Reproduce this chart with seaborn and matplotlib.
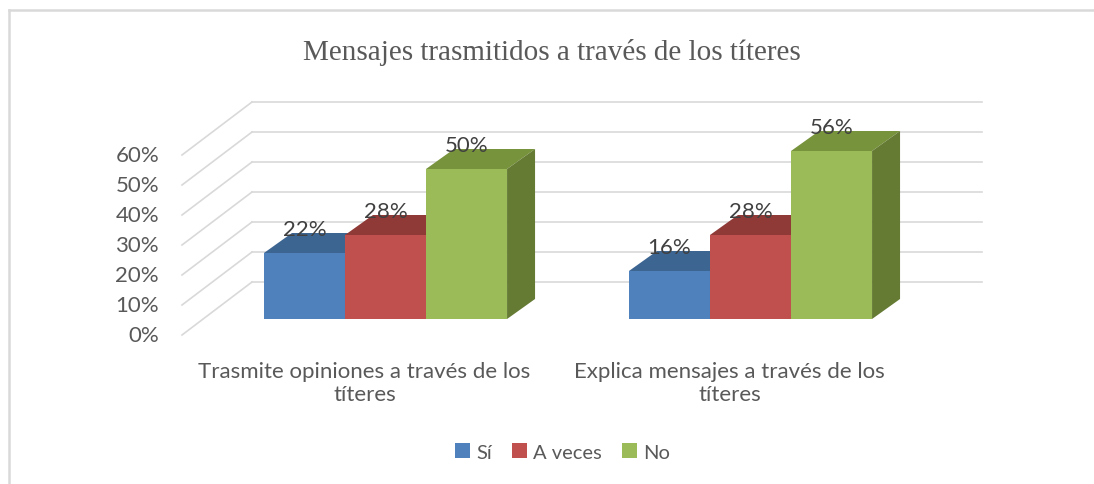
import numpy as np
import pandas as pd
import seaborn as sns
import matplotlib.pyplot as plt
from matplotlib.patches import Polygon
from matplotlib.lines import Line2D

# data
preguntas = ["Trasmite opiniones a través de los\ntíteres",
             "Explica mensajes a través de los\ntíteres"]
respuestas = ["Sí", "A veces", "No"]
si = [22, 16]
a_veces = [28, 28]
no = [50, 56]
ticks = [0, 10, 20, 30, 40, 50, 60]

df = pd.DataFrame({
    "pregunta": preguntas * 3,
    "respuesta": [r for r in respuestas for _ in preguntas],
    "valor": si + a_veces + no,
})

front = {"Sí": "#4F81BD", "A veces": "#C0504D", "No": "#9BBB59"}
top = {"Sí": "#3D6592", "A veces": "#8F3A37", "No": "#77933C"}
side = {"Sí": "#36587F", "A veces": "#7E3331", "No": "#657B34"}
grid_c = "#D9D9D9"
txt_c = "#595959"
lbl_font = "Lato"
fs = 16

W, H = 1094, 485
fig = plt.figure(figsize=(W / 100, H / 100), dpi=100)
ax = fig.add_axes([0, 0, 1, 1])

# pixel scale: one category = 365 px, 1 % = 3 px
px_x = 1 / 365
px_y = 1 / 3
cat0_px = 385.5
base_px = 320

sns.barplot(data=df, x="pregunta", y="valor", hue="respuesta",
            hue_order=respuestas, palette=front, width=0.666,
            saturation=1, ax=ax, legend=True)
ax.set_xlim(-cat0_px * px_x, (W - cat0_px) * px_x)
ax.set_ylim(-(H - base_px) * px_y, base_px * px_y)
ax.axis("off")

# depth offsets (relative to the bar front plane)
fx, fy = -21 * px_x, -16 * px_y       # front of floor
bx, by = 49 * px_x, 37 * px_y         # back wall
dx, dy = 28 * px_x, 20 * px_y         # bar depth
x_front = (182 - cat0_px) * px_x
x_back = x_front + (bx - fx)
x_end = (982 - cat0_px) * px_x

for t in ticks:
    ax.plot([x_front, x_back], [t + fy, t + by], color=grid_c, lw=1.2, zorder=1)
    ax.plot([x_back, x_end], [t + by, t + by], color=grid_c, lw=1.2, zorder=1)
    ax.text(x_front - 23 * px_x, t + fy, f"{t}%", ha="right", va="center",
            fontsize=fs, color=txt_c, family=lbl_font)

# 3D faces for each bar, drawn left to right
bars = []
for cont, resp in zip(ax.containers, respuestas):
    for p in cont:
        bars.append((p, resp))
bars.sort(key=lambda b: b[0].get_x())

for i, (p, resp) in enumerate(bars):
    z = 3 + i * 0.1
    x0, w, h = p.get_x(), p.get_width(), p.get_height()
    p.set_zorder(z)
    p.set_edgecolor("none")
    ax.add_patch(Polygon([(x0, h), (x0 + w, h), (x0 + w + dx, h + dy), (x0 + dx, h + dy)],
                         closed=True, fc=top[resp], ec="none", zorder=z))
    ax.add_patch(Polygon([(x0 + w, 0), (x0 + w + dx, dy), (x0 + w + dx, h + dy), (x0 + w, h)],
                         closed=True, fc=side[resp], ec="none", zorder=z))
    ax.text(x0 + w / 2, h + 24 * px_y, f"{h:.0f}%", ha="center", va="center",
            fontsize=fs, color="#404040", family=lbl_font, zorder=10)

for i, q in enumerate(preguntas):
    ax.text(i + fx, -42 * px_y, q, ha="center", va="top", fontsize=fs,
            color=txt_c, family=lbl_font, linespacing=1.2)

fig.text(552 / W, 1 - 60 / H, "Mensajes trasmitidos a través de los títeres",
         ha="center", va="baseline", fontsize=21, color=txt_c,
         family="Liberation Serif")

sns.move_legend(ax, "center", bbox_to_anchor=(0.514, 1 - 453 / H), ncol=3,
                frameon=False, title=None, fontsize=14.5, handlelength=0.75,
                handleheight=0.75, handletextpad=0.3, columnspacing=1.0)
for t in ax.get_legend().get_texts():
    t.set_color(txt_c)
    t.set_family(lbl_font)

# chart area border (only top and left edges are in view)
yb = 1 - 11 / H
xb = 8.5 / W
fig.add_artist(Line2D([xb, 1], [yb, yb], transform=fig.transFigure,
                      color="#D9D9D9", lw=1.8))
fig.add_artist(Line2D([xb, xb], [0, yb], transform=fig.transFigure,
                      color="#D9D9D9", lw=1.8))

fig.savefig("out.png", dpi=100)
